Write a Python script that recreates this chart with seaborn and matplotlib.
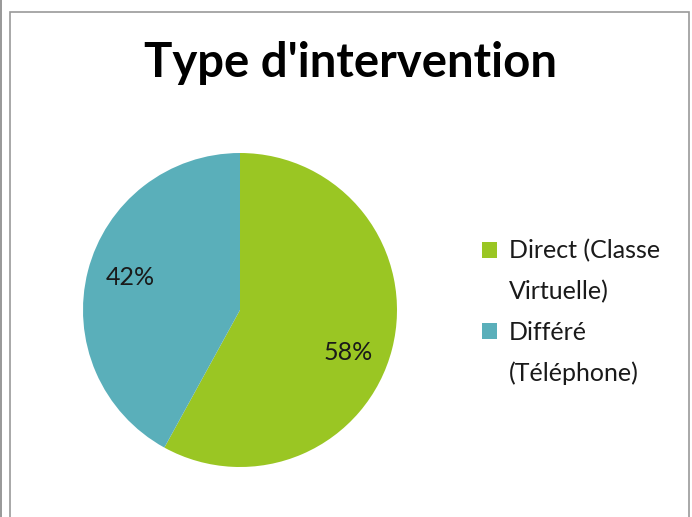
import matplotlib
matplotlib.use("Agg")
import matplotlib.pyplot as plt
import seaborn as sns
from matplotlib.patches import Rectangle

categories = ["Direct (Classe Virtuelle)", "Différé (Téléphone)"]
legend_lines = [["Direct (Classe", "Virtuelle)"], ["Différé", "(Téléphone)"]]
values = [58, 42]
colors = ["#9AC623", "#5AAFBA"]
title = "Type d'intervention"

sns.set_theme(style="white")
plt.rcParams['font.family'] = ['Lato', 'DejaVu Sans']

W, H = 692, 517
fig = plt.figure(figsize=(W/100, H/100), dpi=100)

# frame
fig.patches.append(Rectangle((10/W, -0.05), (689-10)/W, (H-12)/H + 0.05, transform=fig.transFigure,
                             fill=False, edgecolor="#9a9a9a", linewidth=1.2))
fig.patches.append(Rectangle((1/W, -0.05), 0.0, 1.2, transform=fig.transFigure,
                             fill=False, edgecolor="#9a9a9a", linewidth=1.2))

cx, cy, r = 240, 310, 157
ax = fig.add_axes([(cx - r)/W, (H - cy - r)/H, 2*r/W, 2*r/H])
wedges, texts, autotexts = ax.pie(values, colors=colors, startangle=90, counterclock=False,
                                  autopct=lambda p: f"{p:.0f}%", pctdistance=0.72,
                                  wedgeprops=dict(linewidth=0),
                                  textprops=dict(fontsize=18, color="#1a1a1a"))
ax.set_xlim(-1, 1); ax.set_ylim(-1, 1)
ax.set_aspect('equal')
# nudge labels slightly as in the original layout
for t, (dx, dy) in zip(autotexts, [(-0.01, -0.09), (0.0, 0.03)]):
    x, y = t.get_position()
    t.set_position((x + dx, y + dy))

fig.text(351/W, 1 - 63/H, title, ha='center', va='center', fontsize=34, fontweight='bold', color='black')

handles, labels = [], []
for w, lines in zip(wedges, legend_lines):
    for i, line in enumerate(lines):
        if i == 0:
            handles.append(w)
        else:
            handles.append(Rectangle((0, 0), 1, 1, facecolor='none', edgecolor='none'))
        labels.append(line)

leg = fig.legend(handles, labels, loc='upper left', bbox_to_anchor=(459/W, 1 - 217/H),
                 frameon=False, fontsize=18, handlelength=0.6, handleheight=0.6,
                 handletextpad=0.5, labelspacing=0.7, labelcolor="#1a1a1a")

fig.savefig("out.png", dpi=100)
